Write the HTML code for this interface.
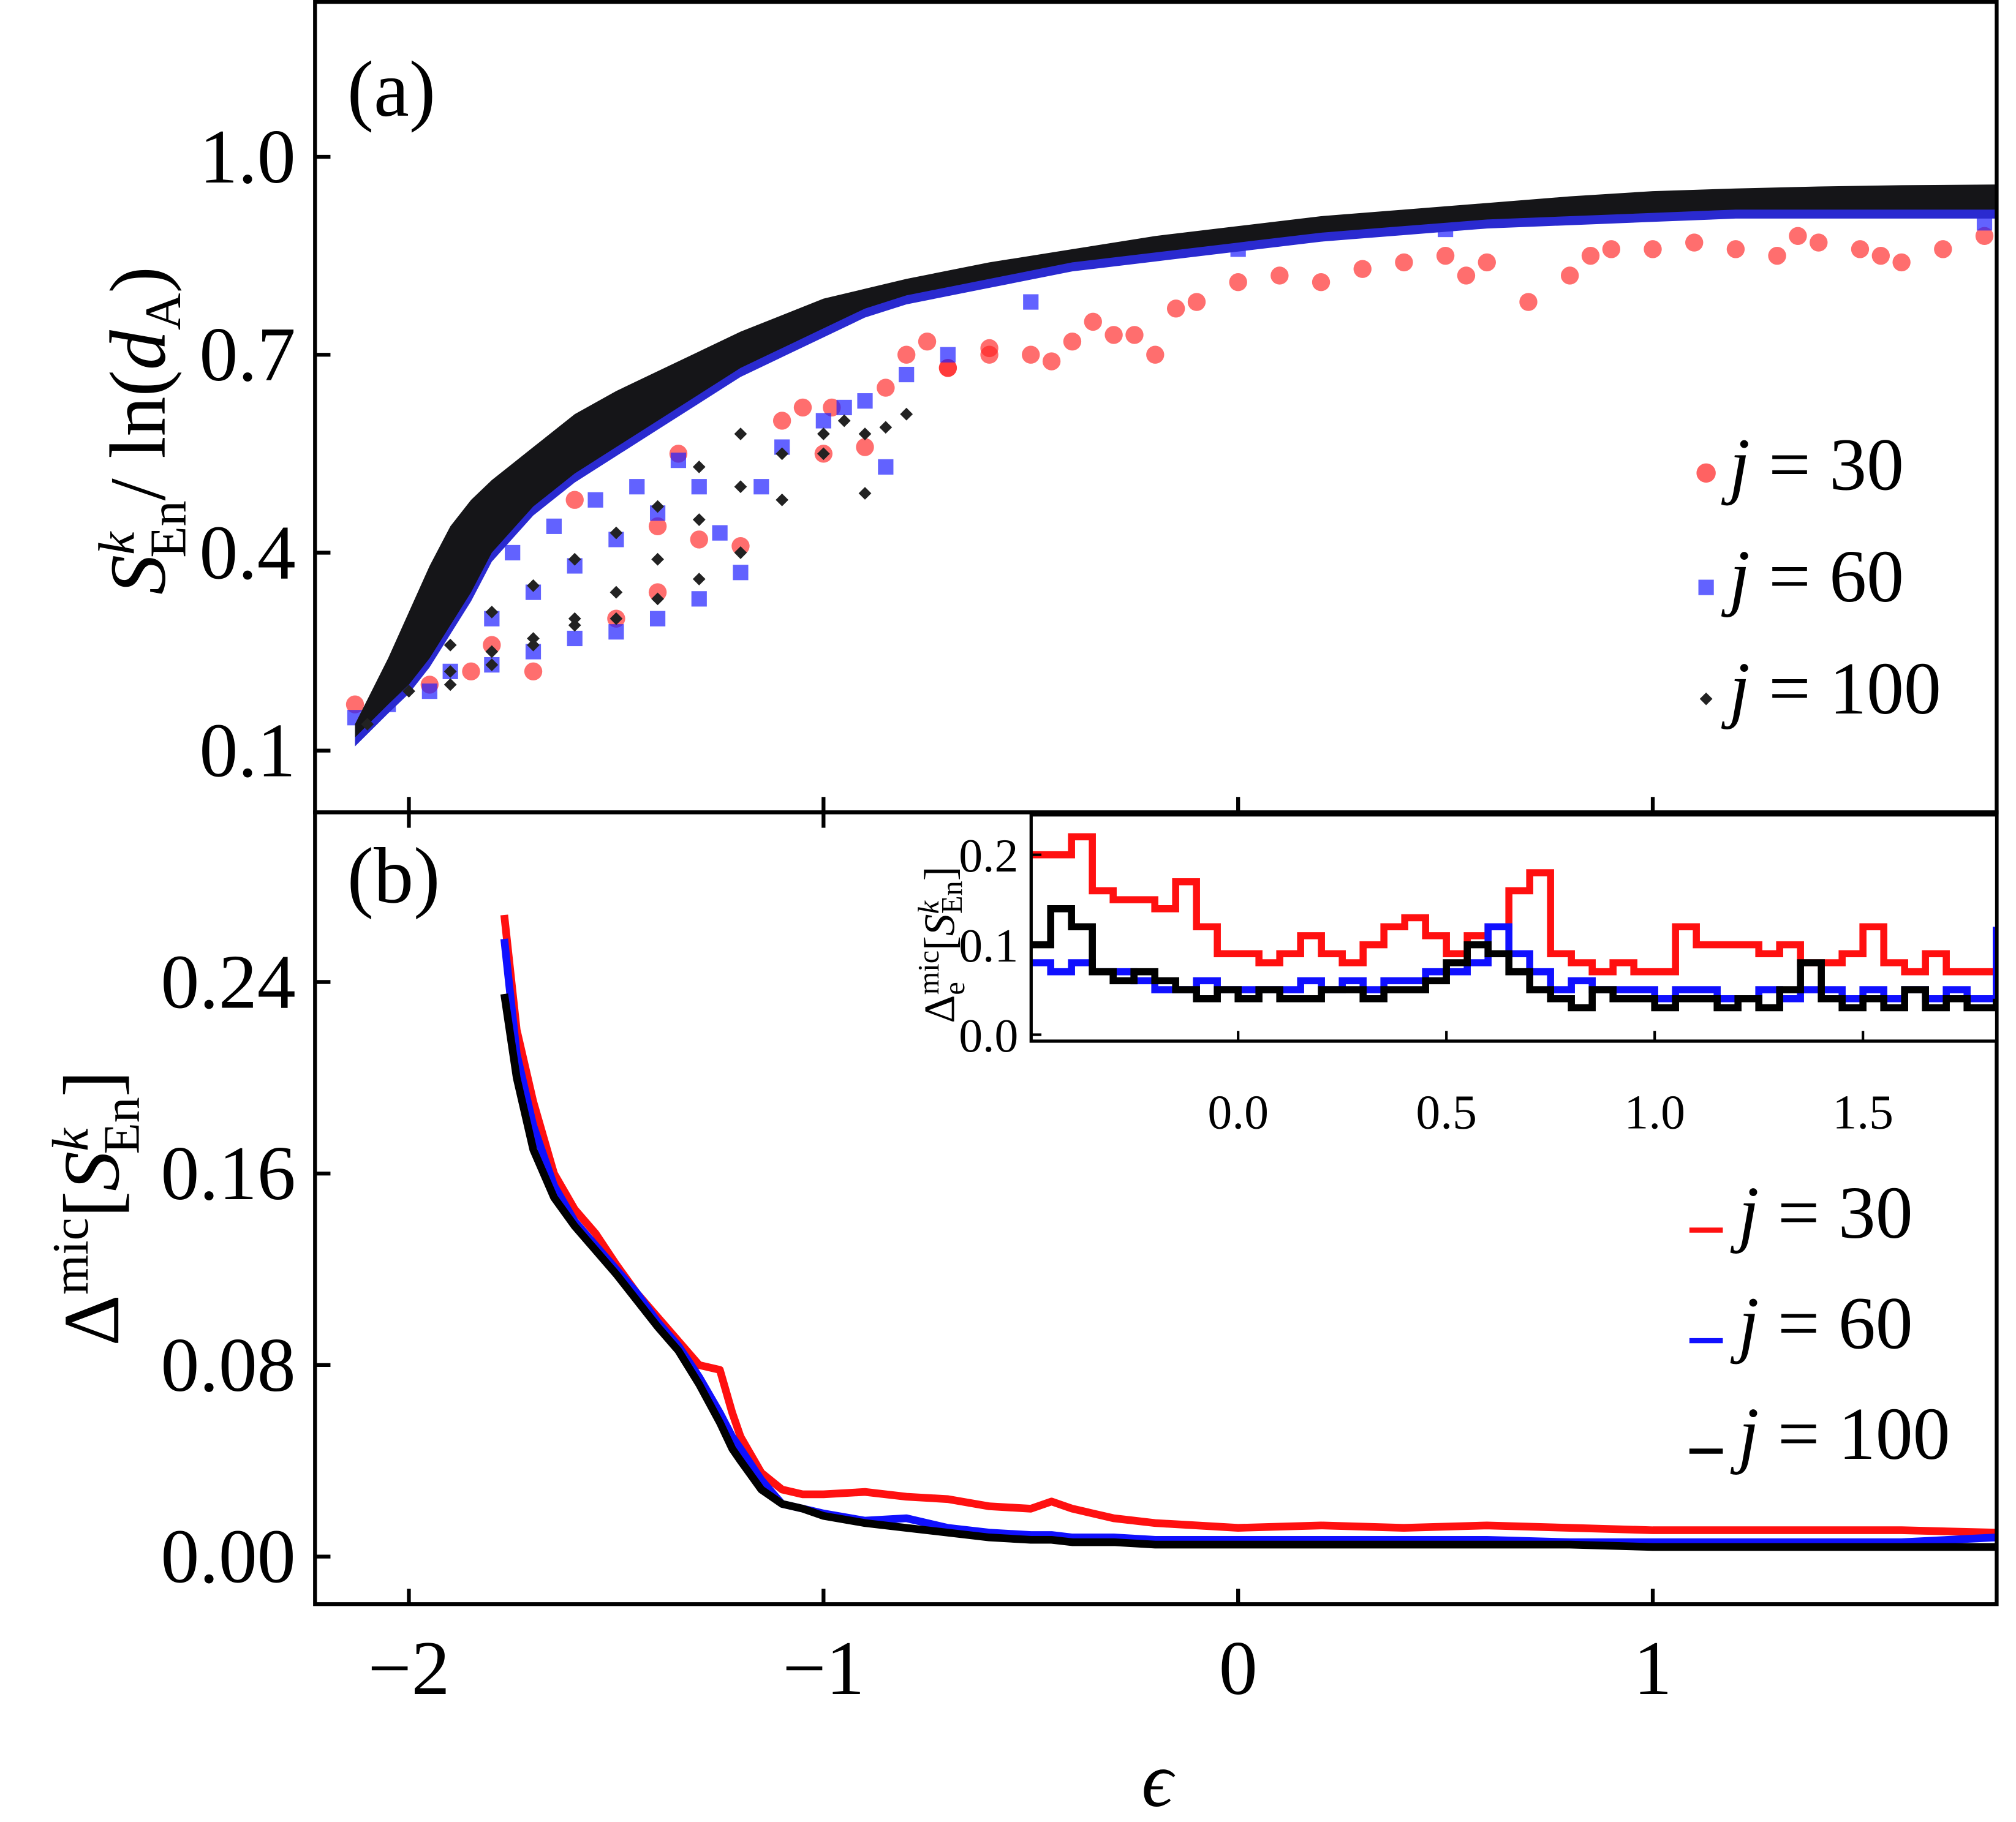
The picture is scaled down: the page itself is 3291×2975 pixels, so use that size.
<!DOCTYPE html>
<html><head><meta charset="utf-8"><style>
html,body{margin:0;padding:0;background:#fff}
svg{display:block}
text{font-family:"Liberation Serif",serif;fill:#000}
</style></head><body>
<svg id="fig" width="3291" height="2975" viewBox="0 0 1568 1417.5" xmlns="http://www.w3.org/2000/svg">
<g id="g"></g>
</svg>
<script>
// ---------- data ----------
const xTicks=[-2,-1,0,1];
const xTickLabels=["\u22122","\u22121","0","1"];
const topYTicks=[0.1,0.4,0.7,1.0];
const topYTickLabels=["0.1","0.4","0.7","1.0"];
const botYTicks=[0,0.08,0.16,0.24];
const botYTickLabels=["0.00","0.08","0.16","0.24"];
const insXTicks=[0,0.5,1.0,1.5];
const insXTickLabels=["0.0","0.5","1.0","1.5"];
const insYTicks=[0,0.1,0.2];
const insYTickLabels=["0.0","0.1","0.2"];
// black band (j=100) upper & lower bounds
const bandX=[-2.13,-2.05,-2.0,-1.95,-1.9,-1.85,-1.8,-1.7,-1.6,-1.5,-1.4,-1.3,-1.2,-1.1,-1.0,-0.9,-0.8,-0.6,-0.4,-0.2,0,0.2,0.4,0.6,0.8,1.0,1.2,1.4,1.6,1.83];
const bandUpper=[0.14,0.24,0.31,0.38,0.44,0.48,0.51,0.56,0.61,0.645,0.675,0.705,0.735,0.76,0.785,0.80,0.815,0.84,0.86,0.88,0.895,0.91,0.92,0.93,0.94,0.948,0.952,0.955,0.957,0.958];
const bandLower=[0.12,0.17,0.20,0.24,0.29,0.34,0.40,0.47,0.52,0.56,0.60,0.64,0.68,0.71,0.74,0.77,0.79,0.815,0.84,0.855,0.87,0.885,0.895,0.905,0.91,0.915,0.92,0.92,0.92,0.92];
// branches of black points
const brBlackX=[-2.1,-2.0,-1.9,-1.8,-1.7,-1.6,-1.5,-1.4,-1.3,-1.2,-1.1,-1.0,-0.9,-0.85,-0.8,-1.9,-1.8,-1.7,-1.6,-1.5,-1.4,-1.3,-1.2,-1.9,-1.8,-1.7,-1.6,-1.5,-1.4,-1.3,-1.2,-1.1,-1.0,-0.95,-0.9];
const brBlackY=[0.14,0.19,0.22,0.25,0.27,0.29,0.3,0.33,0.36,0.4,0.48,0.55,0.58,0.59,0.61,0.26,0.31,0.35,0.39,0.43,0.47,0.53,0.58,0.2,0.23,0.26,0.3,0.34,0.39,0.45,0.5,0.55,0.58,0.6,0.49];
// red scatter (j=30)
const redX=[-2.13,-2.05,-1.95,-1.85,-1.8,-1.7,-1.5,-1.4,-1.3,-1.4,-1.6,-1.2,-1.1,-1.0,-0.98,-0.9,-0.85,-0.8,-0.75,-0.7,-0.6,-0.5,-0.45,-0.4,-0.3,-0.2,-0.15,-0.1,0,0.1,0.2,0.3,0.4,0.5,0.6,0.7,0.8,0.9,1.0,1.1,1.2,1.3,1.4,1.5,1.6,1.7,1.8,-0.25,-0.35,0.55,0.85,1.35,1.55,-0.6,-0.7,-1.05,-1.35];
const redY=[0.17,0.18,0.2,0.22,0.26,0.22,0.3,0.34,0.42,0.44,0.48,0.41,0.6,0.55,0.62,0.56,0.65,0.7,0.72,0.68,0.71,0.7,0.69,0.72,0.73,0.7,0.77,0.78,0.81,0.82,0.81,0.83,0.84,0.85,0.84,0.78,0.82,0.86,0.86,0.87,0.86,0.85,0.87,0.86,0.84,0.86,0.88,0.73,0.75,0.82,0.85,0.88,0.85,0.7,0.68,0.62,0.55];
// blue scatter (j=60)
const blueX=[-2.13,-2.05,-1.95,-1.9,-1.8,-1.7,-1.6,-1.5,-1.4,-1.3,-1.2,-1.25,-1.15,-1.1,-1.0,-0.95,-0.9,-0.85,-1.8,-1.7,-1.6,-1.5,-1.4,-1.3,-1.35,-1.45,-0.8,-0.7,-0.5,0,0.5,1.0,1.5,1.8,-1.75,-1.65,-1.55];
const blueY=[0.15,0.17,0.19,0.22,0.23,0.25,0.27,0.28,0.3,0.33,0.37,0.43,0.5,0.56,0.6,0.62,0.63,0.53,0.3,0.34,0.38,0.42,0.46,0.5,0.54,0.5,0.67,0.7,0.78,0.86,0.89,0.92,0.92,0.9,0.4,0.44,0.48];
// panel (b) lines
const lineX=[-1.77,-1.74,-1.7,-1.65,-1.6,-1.55,-1.5,-1.45,-1.4,-1.35,-1.3,-1.25,-1.22,-1.2,-1.15,-1.1,-1.05,-1.0,-0.9,-0.8,-0.7,-0.6,-0.5,-0.45,-0.4,-0.3,-0.2,0,0.2,0.4,0.6,0.8,1.0,1.2,1.4,1.6,1.83];
const lineRed=[0.268,0.22,0.19,0.16,0.145,0.135,0.122,0.11,0.1,0.09,0.08,0.078,0.06,0.05,0.035,0.028,0.026,0.026,0.027,0.025,0.024,0.021,0.02,0.023,0.02,0.016,0.014,0.012,0.013,0.012,0.013,0.012,0.011,0.011,0.011,0.011,0.01];
const lineBlue=[0.258,0.21,0.18,0.155,0.14,0.13,0.12,0.11,0.098,0.088,0.075,0.06,0.05,0.045,0.032,0.022,0.02,0.018,0.015,0.016,0.012,0.01,0.009,0.009,0.008,0.008,0.007,0.007,0.007,0.007,0.007,0.006,0.006,0.006,0.006,0.006,0.008];
const lineBlack=[0.235,0.2,0.17,0.15,0.138,0.128,0.118,0.107,0.096,0.086,0.072,0.056,0.045,0.04,0.028,0.022,0.02,0.017,0.014,0.012,0.01,0.008,0.007,0.007,0.006,0.006,0.005,0.005,0.005,0.005,0.005,0.005,0.004,0.004,0.004,0.004,0.004];
// inset step lines
const insX=[-0.5,-0.45,-0.4,-0.35,-0.3,-0.25,-0.2,-0.15,-0.1,-0.05,0,0.05,0.1,0.15,0.2,0.25,0.3,0.35,0.4,0.45,0.5,0.55,0.6,0.65,0.7,0.75,0.8,0.85,0.9,0.95,1.0,1.05,1.1,1.15,1.2,1.25,1.3,1.35,1.4,1.45,1.5,1.55,1.6,1.65,1.7,1.75,1.82];
const insRed=[0.2,0.2,0.22,0.16,0.15,0.15,0.14,0.17,0.12,0.09,0.09,0.08,0.09,0.11,0.09,0.08,0.1,0.12,0.13,0.11,0.09,0.11,0.12,0.16,0.18,0.09,0.08,0.07,0.08,0.07,0.07,0.12,0.1,0.1,0.1,0.09,0.1,0.08,0.08,0.09,0.12,0.08,0.07,0.09,0.07,0.07,0.09];
const insBlue=[0.08,0.07,0.08,0.07,0.07,0.06,0.05,0.05,0.06,0.05,0.05,0.05,0.05,0.06,0.05,0.06,0.05,0.06,0.06,0.07,0.07,0.08,0.12,0.09,0.07,0.05,0.06,0.05,0.05,0.05,0.04,0.05,0.05,0.04,0.04,0.05,0.04,0.05,0.05,0.04,0.05,0.04,0.05,0.04,0.05,0.04,0.12];
const insBlack=[0.1,0.14,0.12,0.07,0.06,0.07,0.06,0.05,0.04,0.05,0.04,0.05,0.04,0.04,0.05,0.05,0.04,0.05,0.05,0.06,0.08,0.1,0.09,0.07,0.05,0.04,0.03,0.05,0.04,0.04,0.03,0.04,0.04,0.03,0.04,0.03,0.05,0.08,0.04,0.03,0.04,0.03,0.05,0.03,0.04,0.03,0.04];

// ---------- axes ----------
const NS="http://www.w3.org/2000/svg";
const G=document.getElementById('g');
const X0=245,X1=1553;
const xs=v=>318+(v+2)*322.5;
const ytop=v=>122+(1.0-v)*513.3;
const ybot=v=>1211-v*1862.5;
const xi=v=>963+v*324;
const yi=v=>805-v*700;
function mk(tag,attrs,parent){const e=document.createElementNS(NS,tag);for(const k in attrs)e.setAttribute(k,attrs[k]);(parent||G).appendChild(e);return e;}
function txt(s,x,y,size,anchor,parent){const t=mk('text',{x:x,y:y,'font-size':size,'text-anchor':anchor||'middle'},parent);t.textContent=s;return t;}

// panel a marks
const pa=mk('g',{'clip-path':'url(#ca)'});


mk('clipPath',{id:'ca'}).appendChild(mk('rect',{x:X0,y:2,width:X1-X0,height:630}));
for(let i=0;i<redX.length;i++){const c=mk('circle',{cx:xs(redX[i]),cy:ytop(redY[i]),r:7,fill:'#ff2020','fill-opacity':0.65},pa);

}
for(let i=0;i<blueX.length;i++){const r=mk('rect',{x:xs(blueX[i])-6,y:ytop(blueY[i])-6,width:12,height:12,fill:'#2020ff','fill-opacity':0.7},pa);

}
let pts=bandX.map((x,i)=>xs(x)+','+ytop(bandUpper[i])).concat(bandX.map((x,i)=>xs(x)+','+ytop(bandLower[i])).reverse());
const bandBlue=mk('polygon',{points:pts.join(' '),fill:'#2a2ad0',transform:'translate(0,7)'},pa);


const band=mk('polygon',{points:pts.join(' '),fill:'#151518'},pa);


for(let i=0;i<brBlackX.length;i++){const d=mk('rect',{x:xs(brBlackX[i])-3.5,y:ytop(brBlackY[i])-3.5,width:7,height:7,fill:'#222',transform:`rotate(45 ${xs(brBlackX[i])} ${ytop(brBlackY[i])})`},pa);

}

// panel b lines
const pb=mk('g',{});


[[lineRed,'#ff1010','line-j30'],[lineBlue,'#1010ff','line-j60'],[lineBlack,'#000','line-j100']].forEach(([arr,col,nm])=>{
 const p=mk('polyline',{points:lineX.map((x,i)=>xs(x)+','+ybot(arr[i])).join(' '),fill:'none',stroke:col,'stroke-width':6,'stroke-linejoin':'round'},pb);
 
 
});

// axes frames
const fa=mk('rect',{x:X0,y:1.5,width:X1-X0,height:630.5,fill:'none',stroke:'#000','stroke-width':3});


const fb=mk('rect',{x:X0,y:632,width:X1-X0,height:616,fill:'none',stroke:'#000','stroke-width':3});


xTicks.forEach((v,i)=>{
 const x=xs(v);
 mk('line',{x1:x,y1:632,x2:x,y2:620,stroke:'#000','stroke-width':3});
 mk('line',{x1:x,y1:632,x2:x,y2:644,stroke:'#000','stroke-width':3});
 mk('line',{x1:x,y1:1248,x2:x,y2:1236,stroke:'#000','stroke-width':3});
 const t=txt(xTickLabels[i],x,1318,60);
 
 
});
topYTicks.forEach((v,i)=>{const y=ytop(v);mk('line',{x1:X0,y1:y,x2:X0+12,y2:y,stroke:'#000','stroke-width':3});
 const t=txt(topYTickLabels[i],230,y+20,60,'end');
 
 });
botYTicks.forEach((v,i)=>{const y=ybot(v);mk('line',{x1:X0,y1:y,x2:X0+12,y2:y,stroke:'#000','stroke-width':3});
 const t=txt(botYTickLabels[i],230,y+20,60,'end');
 
 });

// inset
const ins=mk('g',{});


mk('rect',{x:802,y:634,width:751,height:176,fill:'#fff'},ins);
mk('clipPath',{id:'ci'}).appendChild(mk('rect',{x:802,y:634,width:751,height:176}));
const il=mk('g',{'clip-path':'url(#ci)'},ins);
[[insRed,'#ff1010','inset-line-j30'],[insBlue,'#1010ff','inset-line-j60'],[insBlack,'#000','inset-line-j100']].forEach(([arr,col,nm])=>{
 let d='';arr.forEach((v,i)=>{const x=xi(insX[i]),y=yi(v);d+=(i?`H${x}V${y}`:`M${x},${y}`);});
 const p=mk('path',{d:d,fill:'none',stroke:col,'stroke-width':5.5},il);
 
 
});
mk('rect',{x:802,y:634,width:751,height:176,fill:'none',stroke:'#000','stroke-width':2.5},ins);
insXTicks.forEach((v,i)=>{const x=xi(v);mk('line',{x1:x,y1:810,x2:x,y2:802,stroke:'#000','stroke-width':2},ins);
 const t=txt(insXTickLabels[i],x,878,38,'middle',ins);
 
 });
insYTicks.forEach((v,i)=>{const y=yi(v);mk('line',{x1:802,y1:y,x2:810,y2:y,stroke:'#000','stroke-width':2},ins);
 const t=txt(insYTickLabels[i],792,y+13,37,'end',ins);
 
 });
</script>
<svg style="position:absolute;left:0;top:0" width="3291" height="2975" viewBox="0 0 1568 1417.5">
<g font-family="Liberation Serif, serif">
<text x="270" y="90" font-size="62">(a)</text>
<text x="270" y="702" font-size="62">(b)</text>
<text x="900" y="1405" font-size="60" font-style="italic" text-anchor="middle">ϵ</text>
<text transform="translate(128,335) rotate(-90)" font-size="62" text-anchor="middle"><tspan font-style="italic">S</tspan><tspan font-size="40" font-style="italic" dy="-24">k</tspan><tspan font-size="40" dx="-20" dy="40">En</tspan><tspan dy="-16">/ ln(</tspan><tspan font-style="italic">d</tspan><tspan font-size="40" dy="12">A</tspan><tspan dy="-12">)</tspan></text>
<text transform="translate(92,940) rotate(-90)" font-size="62" text-anchor="middle">Δ<tspan font-size="40" dy="-24">mic</tspan><tspan dy="24">[</tspan><tspan font-style="italic">S</tspan><tspan font-size="40" font-style="italic" dy="-24">k</tspan><tspan font-size="40" dx="-20" dy="40">En</tspan><tspan dy="-16">]</tspan></text>
<text transform="translate(742,735) rotate(-90)" font-size="34" text-anchor="middle">Δ<tspan font-size="23" dy="8">e</tspan><tspan font-size="23" dx="-10" dy="-20">mic</tspan><tspan dy="12">[</tspan><tspan font-style="italic">S</tspan><tspan font-size="23" font-style="italic" dy="-12">k</tspan><tspan font-size="23" dx="-10" dy="18">En</tspan><tspan dy="-6">]</tspan></text>
<g font-size="58">
<circle cx="1327" cy="368" r="7.5" fill="#ff2020" fill-opacity="0.7"/>
<text x="1345" y="381"><tspan font-style="italic">j</tspan> = 30</text>
<rect x="1321" y="451" width="12" height="12" fill="#2020ff" fill-opacity="0.7"/>
<text x="1345" y="468"><tspan font-style="italic">j</tspan> = 60</text>
<rect x="1324" y="540" width="7" height="7" fill="#222" transform="rotate(45 1327 543)"/>
<text x="1345" y="555"><tspan font-style="italic">j</tspan> = 100</text>
</g>
<g font-size="58">
<line x1="1314" y1="957" x2="1340" y2="957" stroke="#ff1010" stroke-width="4"/>
<text x="1352" y="963"><tspan font-style="italic">j</tspan> = 30</text>
<line x1="1314" y1="1043" x2="1340" y2="1043" stroke="#1010ff" stroke-width="4"/>
<text x="1352" y="1049"><tspan font-style="italic">j</tspan> = 60</text>
<line x1="1314" y1="1129" x2="1340" y2="1129" stroke="#000" stroke-width="4"/>
<text x="1352" y="1135"><tspan font-style="italic">j</tspan> = 100</text>
</g>
</g>
</svg>
</body></html>
